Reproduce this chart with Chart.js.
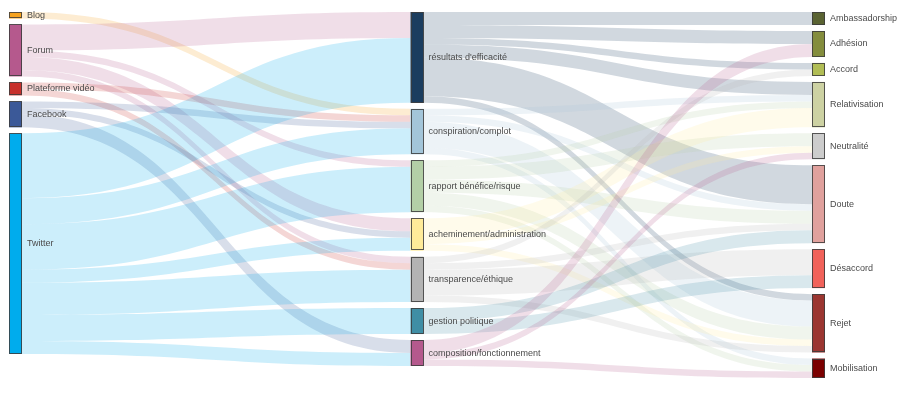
<!DOCTYPE html>
<html>
<head>
<meta charset="utf-8">
<script src="https://cdn.jsdelivr.net/npm/chart.js@4/dist/chart.umd.min.js"></script>
<style>
  html, body { margin: 0; padding: 0; background: #ffffff; }
  #wrap { width: 908px; height: 396px; }
</style>
</head>
<body>
<div id="wrap"><canvas id="c" width="908" height="396"></canvas></div>
<script>
// ---- data ----
const sources = ['Blog', 'Forum', 'Plateforme vidéo', 'Facebook', 'Twitter'];
const themes = ['résultats d\'efficacité', 'conspiration/complot', 'rapport bénéfice/risque',
  'acheminement/administration', 'transparence/éthique', 'gestion politique', 'composition/fonctionnement'];
const stances = ['Ambassadorship', 'Adhésion', 'Accord', 'Relativisation', 'Neutralité',
  'Doute', 'Désaccord', 'Rejet', 'Mobilisation'];

// rows: sources, columns: themes
const sourceThemeValues = [
  [0, 1, 0, 0, 0, 0, 0],   // Blog
  [4, 0, 1, 2, 1, 0, 0],   // Forum
  [0, 1, 0, 0, 1, 0, 0],   // Plateforme vidéo
  [0, 1, 0, 1, 0, 0, 2],   // Facebook
  [10, 4, 7, 2, 5, 4, 2]   // Twitter
];
// rows: themes, columns: stances
const themeStanceValues = [
  [2, 2, 1, 2, 0, 6, 0, 1, 0],   // résultats d'efficacité
  [0, 0, 0, 1, 0, 1, 0, 4, 1],   // conspiration/complot
  [0, 0, 0, 1, 2, 2, 0, 2, 1],   // rapport bénéfice/risque
  [0, 0, 0, 3, 1, 0, 0, 1, 0],   // acheminement/administration
  [0, 0, 1, 0, 0, 1, 4, 1, 0],   // transparence/éthique
  [0, 0, 0, 0, 0, 2, 2, 0, 0],   // gestion politique
  [0, 2, 0, 0, 1, 0, 0, 0, 1]    // composition/fonctionnement
];

// ---- styles ----
const sourceColors = ['#f6a21e', '#b5598d', '#c7302c', '#3b5998', '#00aced'];
const themeColors = ['#1b3d5f', '#a3c5d9', '#b3cfa6', '#ffeb99', '#b3b3b3', '#3f8ea5', '#b5598d'];
const stanceColors = ['#5a6332', '#848d3d', '#b1bd55', '#cdd2a3', '#cccccc', '#e0a19d', '#f1625a', '#9b3631', '#7b0000'];
const GAP = 0.925;        // gap between nodes, in value units
const NODE_W = 13;        // node width in px
const LINK_ALPHA = 0.2;

// ---- layout in value units ----
function buildColumns() {
  const cols = [sources, themes, stances].map((names, ci) => names.map((n, i) => ({ name: n, col: ci, idx: i, value: 0 })));
  // value = max(in, out)
  const inT = themes.map((_, j) => sources.reduce((s, _s, i) => s + sourceThemeValues[i][j], 0));
  const outT = themes.map((_, j) => themeStanceValues[j].reduce((a, b) => a + b, 0));
  cols[0].forEach((n, i) => n.value = sourceThemeValues[i].reduce((a, b) => a + b, 0));
  cols[1].forEach((n, j) => n.value = Math.max(inT[j], outT[j]));
  cols[2].forEach((n, k) => n.value = themes.reduce((s, _t, j) => s + themeStanceValues[j][k], 0));
  cols.forEach(c => {
    let y = 0;
    c.forEach(n => { n.y0 = y; n.y1 = y + n.value; y = n.y1 + GAP; n.outOff = n.y0; n.inOff = n.y0; });
  });
  const links = [];
  sources.forEach((_, i) => themes.forEach((_t, j) => {
    const v = sourceThemeValues[i][j];
    if (v > 0) links.push({ s: cols[0][i], t: cols[1][j], v, color: sourceColors[i] });
  }));
  themes.forEach((_, j) => stances.forEach((_s, k) => {
    const v = themeStanceValues[j][k];
    if (v > 0) links.push({ s: cols[1][j], t: cols[2][k], v, color: themeColors[j] });
  }));
  // out ordering by target position, in ordering by source position (loops already ordered)
  links.forEach(l => { l.sy0 = l.s.outOff; l.s.outOff += l.v; l.sy1 = l.s.outOff; });
  const byTarget = links.slice().sort((a, b) => (a.t.col - b.t.col) || (a.t.idx - b.t.idx) || (a.s.idx - b.s.idx));
  byTarget.forEach(l => { l.ty0 = l.t.inOff; l.t.inOff += l.v; l.ty1 = l.t.inOff; });
  const maxY = Math.max(...cols.map(c => c[c.length - 1].y1));
  return { cols, links, maxY };
}
const layout = buildColumns();
const nodeColors = [sourceColors, themeColors, stanceColors];

function hexA(hex, a) {
  const r = parseInt(hex.slice(1, 3), 16), g = parseInt(hex.slice(3, 5), 16), b = parseInt(hex.slice(5, 7), 16);
  return `rgba(${r},${g},${b},${a})`;
}

const sankeyPlugin = {
  id: 'sankeyDraw',
  afterDatasetsDraw(chart) {
    const ctx = chart.ctx;
    const xs = chart.scales.x, ys = chart.scales.y;
    ctx.save();
    // links
    layout.links.forEach(l => {
      const x0 = xs.getPixelForValue(l.s.col) + NODE_W;
      const x1 = xs.getPixelForValue(l.t.col);
      const xm = (x0 + x1) / 2;
      const a0 = ys.getPixelForValue(l.sy0), a1 = ys.getPixelForValue(l.sy1);
      const b0 = ys.getPixelForValue(l.ty0), b1 = ys.getPixelForValue(l.ty1);
      ctx.beginPath();
      ctx.moveTo(x0, a0);
      ctx.bezierCurveTo(xm, a0, xm, b0, x1, b0);
      ctx.lineTo(x1, b1);
      ctx.bezierCurveTo(xm, b1, xm, a1, x0, a1);
      ctx.closePath();
      ctx.fillStyle = hexA(l.color, LINK_ALPHA);
      ctx.fill();
    });
    // nodes + labels
    ctx.font = '9px "Liberation Sans", Arial, sans-serif';
    ctx.textBaseline = 'middle';
    ctx.textAlign = 'left';
    layout.cols.forEach((c, ci) => c.forEach((n, i) => {
      const x = xs.getPixelForValue(n.col);
      const yT = ys.getPixelForValue(n.y0), yB = ys.getPixelForValue(n.y1);
      ctx.fillStyle = nodeColors[ci][i];
      ctx.fillRect(x, yT, NODE_W, yB - yT);
      ctx.strokeStyle = 'rgba(60,60,60,0.85)';
      ctx.lineWidth = 1;
      ctx.strokeRect(Math.round(x) + 0.5, Math.round(yT) + 0.5, NODE_W - 1, Math.round(yB - yT) - 1);
      ctx.fillStyle = '#4a4a4a';
      ctx.fillText(n.name, x + NODE_W + 5, (yT + yB) / 2);
    }));
    ctx.restore();
  }
};

new Chart(document.getElementById('c'), {
  type: 'scatter',
  data: { datasets: [{ data: [], pointRadius: 0 }] },
  options: {
    responsive: false,
    animation: false,
    layout: { padding: { left: 9, right: 96, top: 12, bottom: 18 } },
    plugins: { legend: { display: false }, tooltip: { enabled: false } },
    scales: {
      x: { type: 'linear', min: 0, max: 2, display: false },
      y: { type: 'linear', min: 0, max: layout.maxY, reverse: true, display: false }
    }
  },
  plugins: [sankeyPlugin]
});
</script>
</body>
</html>
